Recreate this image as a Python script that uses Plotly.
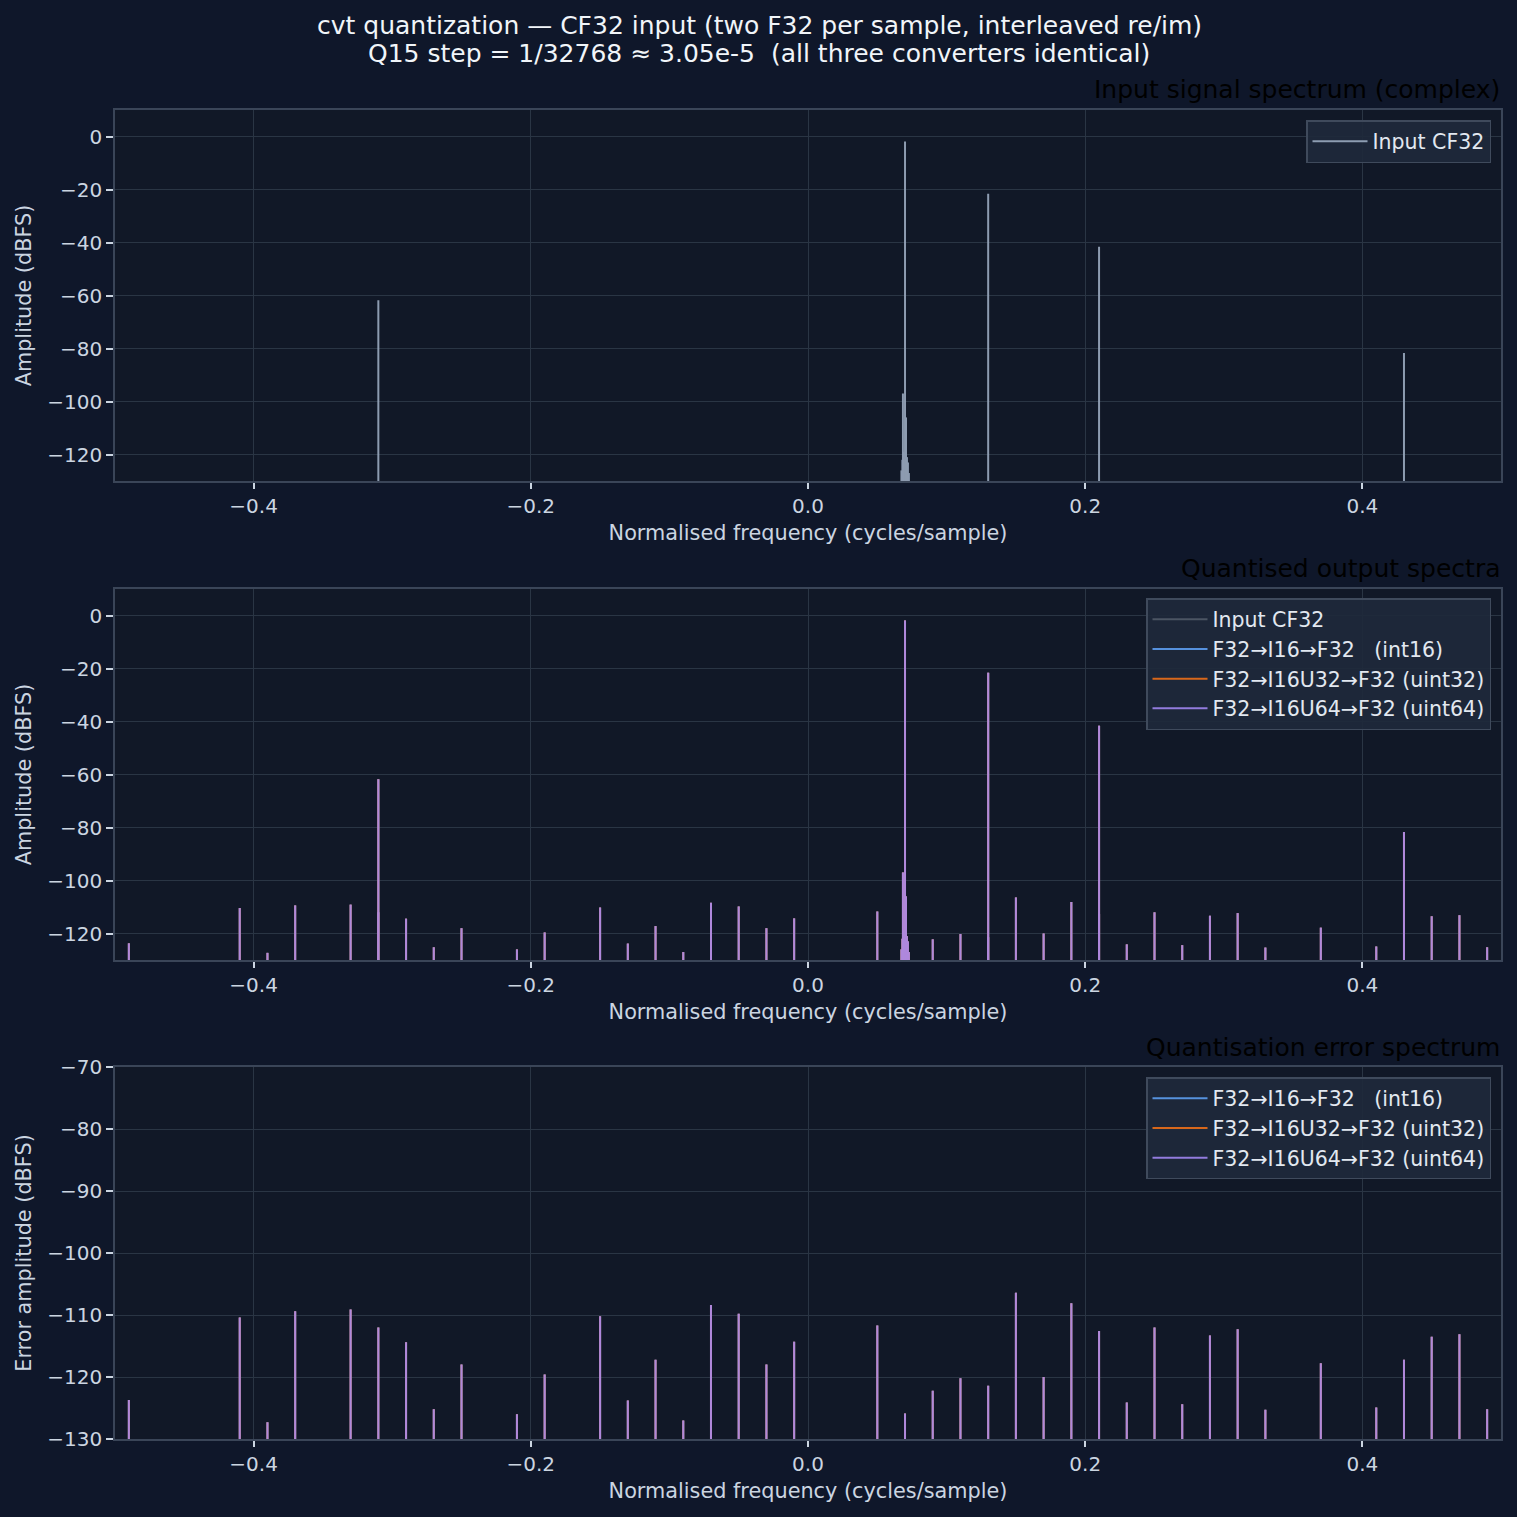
import plotly.graph_objects as go

# ---------------- data ----------------
TONE_F = [-0.31, 0.07, 0.13, 0.21, 0.43]
TONE_DB = [-61.8, -1.9, -21.6, -41.6, -81.7]

SKIRT_F = [0.0674, 0.0681, 0.0685, 0.0692, 0.0707, 0.0714, 0.0721, 0.0728]
SKIRT_DB = [-126.0, -122.0, -97.0, -119.0, -106.0, -121.0, -123.0, -127.0]

SPUR_F = [-0.49, -0.41, -0.39, -0.37, -0.33, -0.31, -0.29, -0.27, -0.25, -0.21,
          -0.19, -0.15, -0.13, -0.11, -0.09, -0.07, -0.05, -0.03, -0.01,
          0.05, 0.07, 0.09, 0.11, 0.13, 0.15, 0.17, 0.19, 0.21, 0.23, 0.25,
          0.27, 0.29, 0.31, 0.33, 0.37, 0.41, 0.43, 0.45, 0.47, 0.49]
ERR_DB = [-123.7, -110.4, -127.3, -109.4, -109.1, -112.0, -114.4, -125.2, -118.0, -126.0,
          -119.6, -110.2, -123.8, -117.2, -127.0, -108.4, -109.8, -118.0, -114.3,
          -111.7, -125.9, -122.2, -120.2, -121.4, -106.4, -120.0, -108.1, -112.6, -124.1, -112.0,
          -124.4, -113.3, -112.3, -125.3, -117.8, -124.9, -117.2, -113.5, -113.1, -125.2]

FLOOR_DB = -200.0

SERIES = ["F32→I16→F32   (int16)", "F32→I16U32→F32 (uint32)", "F32→I16U64→F32 (uint64)"]
SERIES_COLORS = ["#60a5fa", "#f97316", "#a78bfa"]

X_TICKS = [-0.4, -0.2, 0.0, 0.2, 0.4]

# ---------------- helpers ----------------
def stems(freqs, vals):
    xs, ys = [], []
    for f, v in zip(freqs, vals):
        xs += [f, f, None]
        ys += [FLOOR_DB, v, None]
    return xs, ys

inp_x, inp_y = stems(TONE_F + SKIRT_F, TONE_DB + SKIRT_DB)
out_x, out_y = stems(SPUR_F + TONE_F + SKIRT_F, ERR_DB + TONE_DB + SKIRT_DB)
err_x, err_y = stems(SPUR_F, ERR_DB)

BG = "#0f172a"
PLOT_BG = "#111827"
GRID = "#2a3544"
SPINE = "#3a4558"
TXT = "#cbd5e1"
FONT = "DejaVu Sans"
LW = 2.0

fig = go.Figure()

# panel 1
fig.add_trace(go.Scatter(x=inp_x, y=inp_y, mode="lines", name="Input CF32",
                         line=dict(color="#94a3b8", width=LW), opacity=0.95,
                         xaxis="x", yaxis="y", legend="legend"))
# panel 2
fig.add_trace(go.Scatter(x=inp_x, y=inp_y, mode="lines", name="Input CF32",
                         line=dict(color="#4b5563", width=LW),
                         xaxis="x2", yaxis="y2", legend="legend2"))
for name, col in zip(SERIES, SERIES_COLORS):
    fig.add_trace(go.Scatter(x=out_x, y=out_y, mode="lines", name=name,
                             line=dict(color=col, width=LW), opacity=0.85,
                             xaxis="x2", yaxis="y2", legend="legend2"))
# panel 3
for name, col in zip(SERIES, SERIES_COLORS):
    fig.add_trace(go.Scatter(x=err_x, y=err_y, mode="lines", name=name,
                             line=dict(color=col, width=LW), opacity=0.85,
                             xaxis="x3", yaxis="y3", legend="legend3"))

W = H = 1517
def px_x(p):
    return p / W
def px_y(p):
    return 1 - p / H

x_dom = [px_x(115), px_x(1501)]
panels = [(110, 481), (589, 960), (1067, 1439)]

def xaxis_cfg(anchor):
    return dict(domain=x_dom, anchor=anchor, range=[-0.5, 0.5], tickvals=X_TICKS,
                tickformat=".1f", showgrid=True, gridcolor=GRID, gridwidth=1,
                zeroline=False, showline=True, linecolor=SPINE, linewidth=1.5, mirror=True,
                ticks="outside", ticklen=6, tickwidth=1.5, tickcolor=TXT,
                tickfont=dict(family=FONT, size=20, color=TXT),
                title=dict(text="Normalised frequency (cycles/sample)", standoff=9,
                           font=dict(family=FONT, size=20.8, color=TXT)))

def yaxis_cfg(anchor, dom, rng, dtick, title):
    return dict(domain=dom, anchor=anchor, range=rng, dtick=dtick, tick0=0,
                showgrid=True, gridcolor=GRID, gridwidth=1,
                zeroline=False, showline=True, linecolor=SPINE, linewidth=1.5, mirror=True,
                ticks="outside", ticklen=7, tickwidth=1.5, tickcolor=TXT,
                tickfont=dict(family=FONT, size=20, color=TXT),
                title=dict(text=title, standoff=10,
                           font=dict(family=FONT, size=20.8, color=TXT)))

doms = [[px_y(b), px_y(t)] for t, b in panels]

legend_common = dict(bgcolor="rgba(30,41,59,0.92)", bordercolor="#3f4a5c", borderwidth=1.5,
                     font=dict(family=FONT, size=20.5, color="#e2e8f0"),
                     itemwidth=55,
                     xanchor="right", yanchor="top", x=px_x(1491))

fig.update_layout(
    width=W, height=H,
    margin=dict(l=0, r=0, t=0, b=0, autoexpand=False),
    paper_bgcolor=BG, plot_bgcolor=PLOT_BG,
    font=dict(family=FONT, color=TXT),
    xaxis=xaxis_cfg("y"),
    yaxis=yaxis_cfg("x", doms[0], [-130, 10], 20, "Amplitude (dBFS)"),
    xaxis2=xaxis_cfg("y2"),
    yaxis2=yaxis_cfg("x2", doms[1], [-130, 10], 20, "Amplitude (dBFS)"),
    xaxis3=xaxis_cfg("y3"),
    yaxis3=yaxis_cfg("x3", doms[2], [-130, -70], 10, "Error amplitude (dBFS)"),
    legend=dict(legend_common, y=px_y(120)),
    legend2=dict(legend_common, y=px_y(598)),
    legend3=dict(legend_common, y=px_y(1077)),
    showlegend=True,
)

annots = [
    dict(text="cvt quantization — CF32 input (two F32 per sample, interleaved re/im)",
         x=px_x(759), y=px_y(25), xanchor="center", yanchor="middle"),
    dict(text="Q15 step = 1/32768 ≈ 3.05e-5  (all three converters identical)",
         x=px_x(759), y=px_y(53), xanchor="center", yanchor="middle"),
]
for a in annots:
    fig.add_annotation(xref="paper", yref="paper", showarrow=False,
                       font=dict(family=FONT, size=25, color="#f1f5f9"), **a)

sub_titles = [("Input signal spectrum (complex)", 90),
              ("Quantised output spectra", 569),
              ("Quantisation error spectrum", 1047)]
for t, yc in sub_titles:
    fig.add_annotation(xref="paper", yref="paper", showarrow=False, text=t,
                       x=px_x(1502), y=px_y(yc), xanchor="right", yanchor="middle",
                       font=dict(family=FONT, size=25, color="#000000"))

fig.write_html("out.html")
